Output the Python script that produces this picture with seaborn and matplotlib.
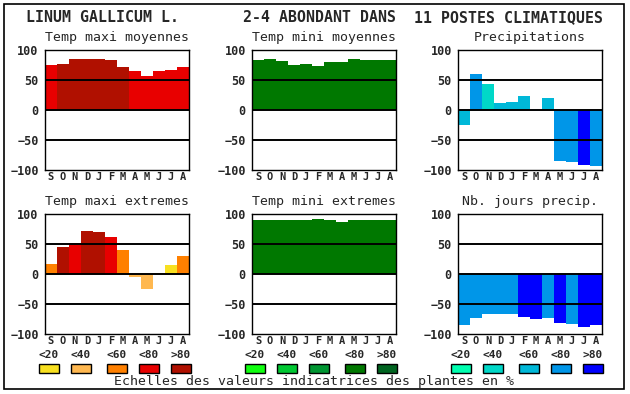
import matplotlib
matplotlib.use("Agg")
import matplotlib.pyplot as plt
from matplotlib.patches import Rectangle
import seaborn as sns

W, H = 630, 394

months = ["S", "O", "N", "D", "J", "F", "M", "A", "M", "J", "J", "A"]
classes = ["<20", "<40", "<60", "<80", ">80"]

# couleurs des classes de valeurs indicatrices
reds = ["#f8e020", "#ffb850", "#ff8000", "#e80000", "#b01000"]
greens = ["#10ff10", "#00c832", "#009632", "#007800", "#006420"]
blues = ["#00ffb0", "#00d8c8", "#00b8d8", "#0096e8", "#0000ff"]

# valeurs (index de classe 0..4 pour la couleur)
tmax_moy = [75, 77, 85, 85, 85, 83, 72, 65, 57, 65, 67, 72]
tmax_moy_cls = [3, 4, 4, 4, 4, 4, 4, 3, 3, 3, 3, 3]

tmin_moy = [83, 85, 82, 75, 77, 73, 80, 80, 85, 83, 83, 83]
tmin_moy_cls = [3] * 12

precip = [-25, 60, 43, 12, 13, 23, 0, 20, -85, -87, -92, -93]
precip_cls = [2, 3, 1, 2, 2, 2, 2, 2, 3, 3, 4, 3]

tmax_ext = [17, 45, 52, 72, 70, 62, 40, -5, -25, 2, 15, 30]
tmax_ext_cls = [2, 4, 3, 4, 4, 3, 2, 1, 1, 1, 0, 2]

tmin_ext = [90, 90, 90, 90, 90, 92, 90, 87, 90, 90, 90, 90]
tmin_ext_cls = [3] * 12

jours = [-85, -73, -67, -67, -67, -72, -75, -73, -82, -83, -88, -85]
jours_cls = [3, 3, 3, 3, 3, 4, 4, 3, 4, 3, 4, 4]


def fx(x):
    return x / W


def fy(y):
    return 1 - y / H


sns.set_style("white")
plt.rcParams["font.family"] = ["DejaVu Sans Mono"]

fig = plt.figure(figsize=(W / 100, H / 100), dpi=100)

panels = [
    ("Temp maxi moyennes", tmax_moy, tmax_moy_cls, reds, 45, 50),
    ("Temp mini moyennes", tmin_moy, tmin_moy_cls, greens, 252, 50),
    ("Precipitations", precip, precip_cls, blues, 458, 50),
    ("Temp maxi extremes", tmax_ext, tmax_ext_cls, reds, 45, 214),
    ("Temp mini extremes", tmin_ext, tmin_ext_cls, greens, 252, 214),
    ("Nb. jours precip.", jours, jours_cls, blues, 458, 214),
]

for title, vals, cls, pal, x0, y0 in panels:
    ax = fig.add_axes([fx(x0), fy(y0 + 120), 144 / W, 120 / H])
    idx = list(range(12))
    cols = {i: pal[c] for i, c in enumerate(cls)}
    sns.barplot(x=idx, y=vals, hue=idx, palette=cols, width=1, saturation=1,
                legend=False, linewidth=0, ax=ax)
    ax.set_xlim(-0.5, 11.5)
    ax.set_ylim(-100, 100)
    ax.set_yticks([100, 50, 0, -50, -100])
    ax.set_xticks(idx)
    ax.set_xticklabels(months)
    ax.set_xlabel("")
    ax.set_ylabel("")
    for v in [50, 0, -50]:
        ax.axhline(v, color="black", lw=1.4, zorder=5)
    ax.tick_params(length=0)
    ax.tick_params(axis="x", pad=1.5, labelsize=7.5)
    ax.tick_params(axis="y", pad=4.5, labelsize=8.5)
    for lab in ax.get_xticklabels() + ax.get_yticklabels():
        lab.set_fontweight("bold")
    for s in ax.spines.values():
        s.set_color("black")
        s.set_linewidth(1.0)
    fig.text(fx(x0 + 72), fy(y0 - 12), title, ha="center", va="center",
             fontsize=9.5)

# titre
fig.text(fx(26), fy(18), "LINUM GALLICUM L.", ha="left", va="center",
         fontsize=10.7, fontweight="bold")
fig.text(fx(243), fy(18), "2-4 ABONDANT DANS", ha="left", va="center",
         fontsize=10.7, fontweight="bold")
fig.text(fx(414), fy(18), "11 POSTES CLIMATIQUES", ha="left", va="center",
         fontsize=10.7, fontweight="bold")

# echelles de couleurs
legend_x = [
    (reds, [39, 71, 107, 139, 171]),
    (greens, [245, 277, 309, 345, 377]),
    (blues, [451, 483, 519, 551, 583]),
]
for pal, xs in legend_x:
    for col, lab, x in zip(pal, classes, xs):
        fig.add_artist(Rectangle((fx(x), fy(373)), 20 / W, 9 / H,
                                 transform=fig.transFigure, facecolor=col,
                                 edgecolor="black", lw=1.0))
        fig.text(fx(x + 10), fy(355), lab, ha="center", va="center",
                 fontsize=8, fontweight="bold")

fig.text(fx(314), fy(382), "Echelles des valeurs indicatrices des plantes en %",
         ha="center", va="center", fontsize=9.5)

# cadre
fig.add_artist(Rectangle((fx(4), fy(389)), 620 / W, 385 / H,
                         transform=fig.transFigure, fill=False,
                         edgecolor="black", lw=1.2))

fig.savefig("out.png", dpi=100)
